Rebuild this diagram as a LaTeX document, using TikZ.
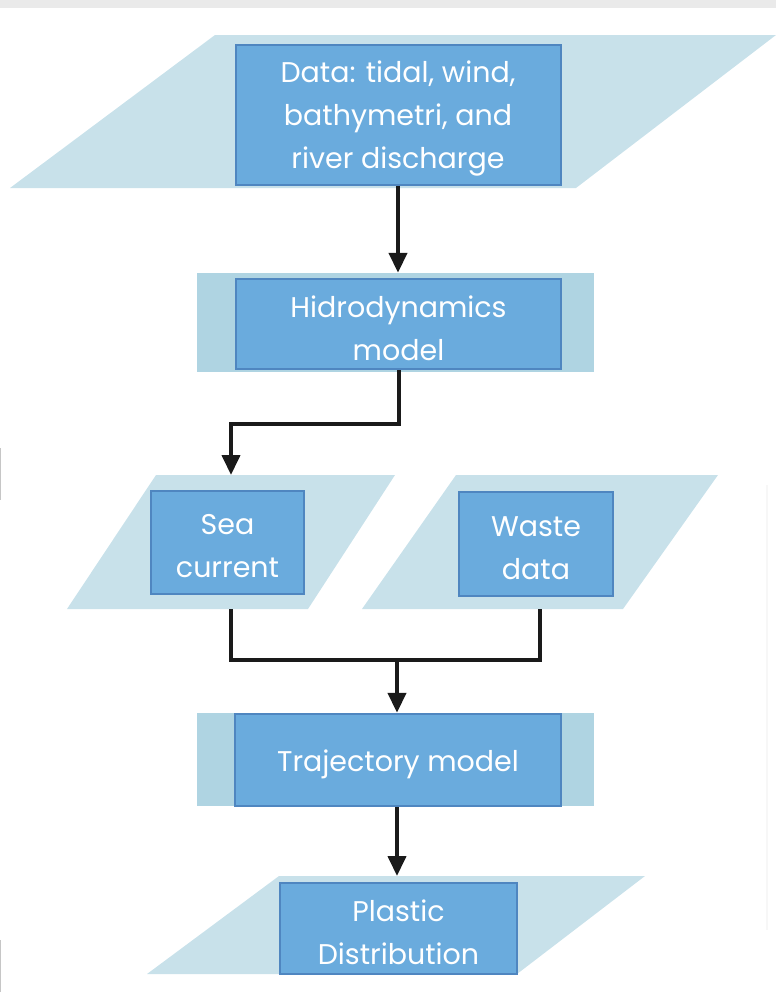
\documentclass[tikz,border=0pt]{standalone}
\usepackage{fontspec}
\setmainfont{Poppins}
\usetikzlibrary{arrows.meta}
\definecolor{paraC}{HTML}{C8E1EA}
\definecolor{sideC}{HTML}{AFD4E2}
\definecolor{boxC}{HTML}{6AABDD}
\definecolor{boxE}{HTML}{4F86C0}
\definecolor{lineC}{HTML}{1A1A1A}
\definecolor{bandC}{HTML}{EAEAEA}
\tikzset{
 bluebox/.style={draw=boxE, line width=2pt, fill=boxC, inner sep=0pt},
 boxtext/.style={label={[text=white, align=center, inner sep=0pt, yshift=-4pt, font=\fontsize{28.5}{43}\selectfont]center:{#1}}},
 para/.style={fill=paraC},
 sidebox/.style={fill=sideC, inner sep=0pt, draw=none},
 flow/.style={draw=lineC, line width=4pt, -{Triangle[width=18pt,length=20pt]}},
 link/.style={draw=lineC, line width=4pt},
}
\begin{document}
\begin{tikzpicture}[x=1pt,y=-1pt]
\useasboundingbox (0,0) rectangle (776,1002);
% page artefacts
\fill[bandC] (0,0) rectangle (776,8);
\draw[gray!45, line width=1pt] (0.5,448) -- (0.5,500);
\draw[gray!45, line width=1pt] (0.5,940) -- (0.5,992);
\draw[gray!6, line width=2pt] (767,485) -- (767,930);

% background shapes
\fill[para] (215,35) -- (776,35) -- (576,188) -- (10,188) -- cycle;
\node[sidebox, minimum width=397pt, minimum height=99pt] (hidroBg) at (395.5,322.5) {};
\fill[para] (156,475) -- (395,475) -- (308,609) -- (67,609) -- cycle;
\fill[para] (456,475) -- (718,475) -- (623,609) -- (362,609) -- cycle;
\node[sidebox, minimum width=397pt, minimum height=93pt] (trajBg) at (395.5,759.5) {};
\fill[para] (279,876) -- (645,876) -- (517,974) -- (147,974) -- cycle;

% boxes
\node[bluebox, minimum width=325pt, minimum height=140pt, boxtext={Data: tidal, wind,\\bathymetri, and\\river discharge}] (data) at (398,114.5) {};
\node[bluebox, minimum width=325pt, minimum height=90pt, boxtext={Hidrodynamics\\model}] (hidro) at (398.5,324) {};
\node[bluebox, minimum width=153pt, minimum height=103pt, boxtext={Sea\\current}] (sea) at (227.5,542.5) {};
\node[bluebox, minimum width=154pt, minimum height=104pt, boxtext={Waste\\data}] (waste) at (536,544) {};
\node[bluebox, minimum width=326pt, minimum height=92pt, boxtext={Trajectory model}] (traj) at (398,760) {};
\node[bluebox, minimum width=237pt, minimum height=91pt, boxtext={Plastic\\Distribution}] (plastic) at (398.5,928.5) {};

% connector points
\coordinate (seaTop) at (231,475);
\coordinate (seaBot) at (231,609);
\coordinate (wasteBot) at (540,609);
\coordinate (join) at (397,660);
\coordinate (plasticTop) at (397,876);

% connectors
\draw[flow] (data.south) -- (data.south |- hidroBg.north);
\draw[flow] (hidro.south) -- ++(0,54) -| (seaTop);
\draw[link] (seaBot) -- (seaBot |- join) -- (wasteBot |- join) -- (wasteBot);
\draw[flow] (join) -- (join |- trajBg.north);
\draw[flow] (plasticTop |- traj.south) -- (plasticTop);
\end{tikzpicture}
\end{document}
